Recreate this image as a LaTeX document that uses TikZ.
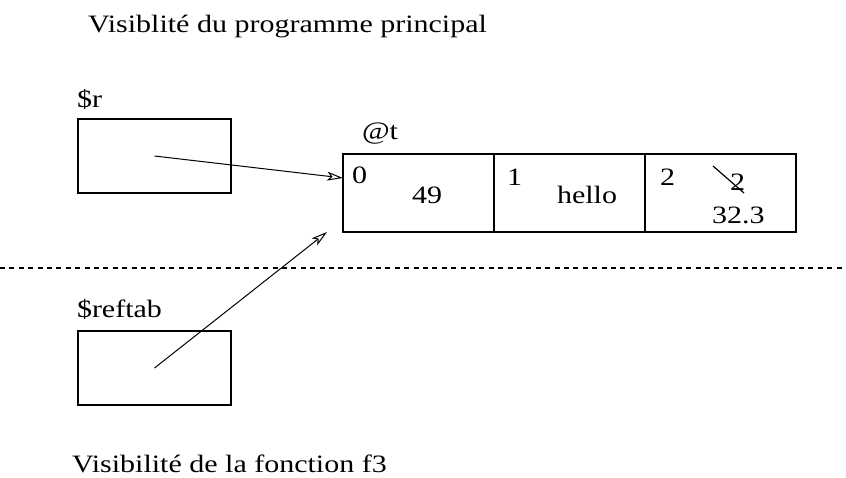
\documentclass[tikz,border=0pt]{standalone}
\usepackage{fontspec}
\setmainfont{Liberation Serif}[FakeStretch=1.2]
\usetikzlibrary{arrows.meta,positioning}

\begin{document}
\begin{tikzpicture}[x=0.5pt,y=-0.5pt,font=\fontsize{12.5}{15}\selectfont,
  varbox/.style={draw,line width=0.9pt,minimum width=76.5pt,minimum height=37pt,inner sep=0pt,outer sep=0pt},
  cell/.style={draw,line width=0.9pt,minimum width=75.5pt,minimum height=39pt,inner sep=0pt,outer sep=0pt},
  txt/.style={anchor=base west,inner sep=0pt,outer sep=0pt}]
\useasboundingbox (0,0) rectangle (846,477);
  \node[txt]                     (main)   at (88,32)   {Visiblité du programme principal};
  \node[txt]                     (rlab)   at (77,107)  {\$r};
  \node[varbox,anchor=north west] (r)     at (78,119)  {};
  \node[txt]                     (tlab)   at (362,139) {@t};
  \node[cell,anchor=north west]  (cell0)  at (343,154) {};
  \node[cell]                    (cell1)  [right=0pt of cell0] {};
  \node[cell]                    (cell2)  [right=0pt of cell1] {};
  \node[txt]                     (idx0)   at (352,183) {0};
  \node[txt]                     (val0)   at (412,203) {49};
  \node[txt]                     (idx1)   at (507,185) {1};
  \node[txt]                     (val1)   at (557,203) {hello};
  \node[txt]                     (idx2)   at (660,185) {2};
  \node[txt]                     (old2)   at (730,190) {2};
  \node[txt]                     (val2)   at (712,223) {32.3};
  \node[txt]                     (reflab) at (77,317)  {\$reftab};
  \node[varbox,anchor=north west] (reftab) at (78,331) {};
  \node[txt]                     (func)   at (72,472)  {Visibilité de la fonction f3};
% old value struck out
\draw[line width=0.6pt] (713,166) -- (744,193);
% scope boundary
\draw[line width=0.8pt,dash pattern=on 2.5pt off 2.2pt] (0,268) -- (846,268);
\tikzset{ptr/.style={-{Stealth[open,length=8pt,width=4.5pt,inset=2pt]},line width=0.5pt}}
\path (r.center)      edge [ptr] ([yshift=7.5pt]cell0.west)
      (reftab.center) edge [ptr] ([xshift=-8pt]cell0.south west);
\end{tikzpicture}
\end{document}
